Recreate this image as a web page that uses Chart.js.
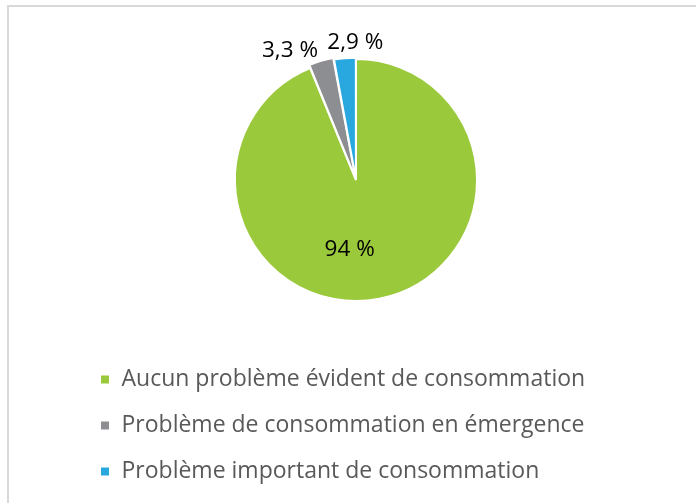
<!DOCTYPE html>
<html>
<head>
<meta charset="utf-8">
<script src="https://cdn.jsdelivr.net/npm/chart.js@4"></script>
<style>
  html, body { margin: 0; padding: 0; background: #fff; overflow: hidden; }
  #wrap { position: relative; width: 696px; height: 503px; }
  #cadre { position: absolute; left: 7px; top: 5px; width: 800px; height: 600px;
           border-left: 2px solid #d9d9d9; border-top: 2px solid #d9d9d9; }
  #graph { position: absolute; left: 0; top: 0; }
</style>
</head>
<body>
<div id="wrap">
  <div id="cadre"></div>
  <canvas id="graph" width="696" height="503"></canvas>
</div>
<script>
// données du graphique
const categories = [
    'Aucun problème évident de consommation',
    'Problème de consommation en émergence',
    'Problème important de consommation'
];
const valeurs = [94, 3.3, 2.9];
const couleurs = ['#9bc93c', '#8c8e92', '#29a8e0'];

// étiquettes des parts (texte dessiné à partir des arcs)
const etiquettes = {
    id: 'etiquettes',
    afterDatasetsDraw(chart, args, opts) {
        const ctx = chart.ctx;
        const arcs = chart.getDatasetMeta(0).data;
        ctx.save();
        ctx.font = '22.5px "Open Sans"';
        ctx.fillStyle = '#000';
        ctx.textAlign = 'center';
        ctx.textBaseline = 'middle';
        arcs.forEach((arc, i) => {
            const p = arc.tooltipPosition();
            const d = opts.decalages[i];
            const texte = String(valeurs[i]).replace('.', ',') + ' %';
            ctx.fillText(texte, p.x + d[0], p.y + d[1]);
        });
        ctx.restore();
    }
};

const graph = document.getElementById('graph');
let chart = new Chart(graph, {
    type: 'pie',
    data: {
        labels: categories,
        datasets: [{
            data: valeurs,
            backgroundColor: couleurs,
            borderColor: '#fff',
            borderWidth: 2,
            offset: [0, 7, 3],
            radius: 121,
        }]
    },
    options: {
        responsive: false,
        animation: false,
        layout: {
            padding: { top: 15, left: 77, right: 61, bottom: 10 }
        },
        plugins: {
            tooltip: { enabled: false },
            legend: {
                position: 'bottom',
                align: 'start',
                labels: {
                    boxWidth: 10,
                    boxHeight: 10,
                    padding: 23,
                    color: '#595959',
                    font: { family: '"Open Sans"', size: 23 }
                }
            },
            etiquettes: {
                decalages: [[-18, 10], [-48, -68], [5, -76]]
            }
        }
    },
    plugins: [etiquettes]
});
</script>
</body>
</html>
